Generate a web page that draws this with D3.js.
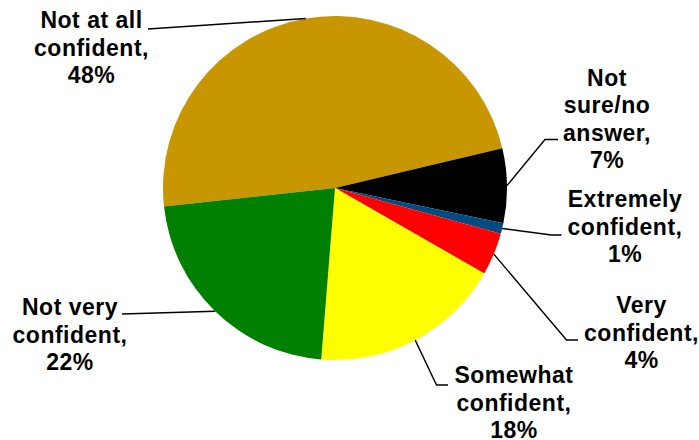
<!DOCTYPE html>
<html>
<head>
  <meta charset="utf-8">
  <script src="https://d3js.org/d3.v7.min.js"></script>
  <style>
    body { margin: 0; background: #fff; }
    .slice-label {
      font-family: "Liberation Sans", Arial, sans-serif;
      font-weight: bold;
      font-size: 23px;
      letter-spacing: 0.5px;
      fill: #000;
      text-anchor: middle;
    }
    .leader {
      fill: none;
      stroke: #000;
      stroke-width: 1.4px;
    }
  </style>
</head>
<body>
  <svg id="chart" width="699" height="440"></svg>
  <script>
    // dados (ordem das fatias no sentido horário)
    const categories = ["Not at all confident", "Not sure/no answer", "Extremely confident",
                        "Very confident", "Somewhat confident", "Not very confident"];
    const values = [48, 7, 1, 4, 18, 22];
    const labelLines = [
      ["Not at all", "confident,", "48%"],
      ["Not", "sure/no", "answer,", "7%"],
      ["Extremely", "confident,", "1%"],
      ["Very", "confident,", "4%"],
      ["Somewhat", "confident,", "18%"],
      ["Not very", "confident,", "22%"]
    ];
    const colors = ["#C89600", "#000000", "#004C80", "#FF0000", "#FFFF00", "#008000"];

    // posição dos rótulos (centro x, primeira linha y) e ponto de quebra da linha guia
    const labelPos = [
      { x: 91.5, y: 28, elbow: null, end: [148, 29] },
      { x: 607, y: 85.5, elbow: [545, 139.5], end: [558, 139.5] },
      { x: 625, y: 207, elbow: [551.5, 235], end: [561.5, 235] },
      { x: 641.5, y: 313, elbow: [566.5, 340], end: [578, 340] },
      { x: 514, y: 383, elbow: [436.5, 385], end: [448, 385] },
      { x: 70, y: 315, elbow: null, end: [122, 314] }
    ];
    const lineHeight = 27.5;

    const cx = 335, cy = 188, radius = 172;
    const start = -96.2 * Math.PI / 180;

    const svg = d3.select("#chart");
    const g = svg.append("g").attr("transform", `translate(${cx},${cy})`);

    const pie = d3.pie().sort(null).startAngle(start).endAngle(start + 2 * Math.PI);
    const arcs = pie(values);
    const arc = d3.arc().innerRadius(0).outerRadius(radius);

    g.selectAll("path.slice")
      .data(arcs)
      .join("path")
      .attr("class", "slice")
      .attr("d", arc)
      .attr("fill", (d, i) => colors[i]);

    // linhas guia
    arcs.forEach((d, i) => {
      const a = (d.startAngle + d.endAngle) / 2;
      const p0 = [cx + radius * Math.sin(a), cy - radius * Math.cos(a)];
      const pos = labelPos[i];
      const pts = pos.elbow ? [p0, pos.elbow, pos.end] : [p0, pos.end];
      svg.append("path")
        .attr("class", "leader")
        .attr("d", d3.line()(pts));
    });

    // rótulos
    labelLines.forEach((lines, i) => {
      const pos = labelPos[i];
      const t = svg.append("text")
        .attr("class", "slice-label")
        .attr("x", pos.x)
        .attr("y", pos.y);
      lines.forEach((s, j) => {
        t.append("tspan")
          .attr("x", pos.x)
          .attr("y", pos.y + j * lineHeight)
          .text(s);
      });
    });
  </script>
</body>
</html>
